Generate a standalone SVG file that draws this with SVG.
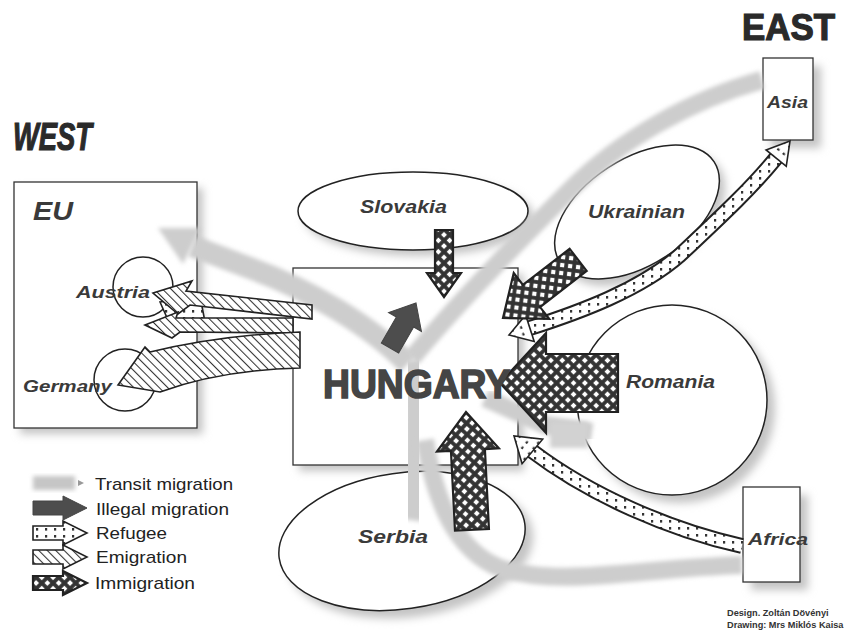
<svg xmlns="http://www.w3.org/2000/svg" width="846" height="635" viewBox="0 0 846 635">
<defs>
<style>
.lbl{font-family:"Liberation Sans",Arial,sans-serif;font-weight:bold;font-style:italic;fill:#3a3a3a}
.ttl{font-family:"Liberation Sans",Arial,sans-serif;font-weight:bold;fill:#2a2a2a;stroke:#2a2a2a;stroke-width:1.2}
.leg{font-family:"Liberation Sans",Arial,sans-serif;font-size:17px;fill:#222}
.cred{font-family:"Liberation Sans",Arial,sans-serif;font-size:9.2px;font-weight:bold;fill:#333}
.box{fill:#fff;stroke:#333;stroke-width:1.3}
.shape{fill:#fff;stroke:#222;stroke-width:1.5}
.shadow{fill:#c4c4c4;filter:url(#blur4)}
.transit{fill:none;stroke:#cdcdcd;filter:url(#blur2)}
.imm{fill:url(#cross);stroke:#222;stroke-width:2.2;stroke-linejoin:miter}
.emi{fill:url(#hatch);stroke:#222;stroke-width:1.6;stroke-linejoin:miter}
.ref{fill:url(#dots);stroke:#222;stroke-width:1.6;stroke-linejoin:miter}
.ill{fill:#4d4d4d;stroke:#444;stroke-width:1}
</style>
<filter id="blur4" x="-30%" y="-30%" width="160%" height="160%"><feGaussianBlur stdDeviation="4"/></filter>
<filter id="blur2" x="-20%" y="-20%" width="140%" height="140%"><feGaussianBlur stdDeviation="2"/></filter>
<pattern id="cross" width="8" height="8" patternUnits="userSpaceOnUse" patternTransform="rotate(45)"><rect width="8" height="8" fill="#333"/><rect x="1.9" y="1.9" width="4.2" height="4.2" fill="#fff"/></pattern>
<pattern id="hatch" width="6" height="6" patternUnits="userSpaceOnUse" patternTransform="rotate(-45)"><rect width="6" height="6" fill="#fff"/><line x1="0.5" y1="0" x2="0.5" y2="6" stroke="#333" stroke-width="1.1"/></pattern>
<pattern id="dots" width="9" height="7" patternUnits="userSpaceOnUse"><rect width="9" height="7" fill="#fff"/><rect x="3" y="2" width="2.2" height="2.6" fill="#333"/></pattern>
</defs>
<rect width="846" height="635" fill="#fff"/>

<g id="shadows">
<rect class="shadow" x="20" y="188" width="183" height="246"/>
<rect class="shadow" x="299" y="274" width="225" height="197"/>
<ellipse class="shadow" cx="419" cy="217" rx="115" ry="39"/>
<ellipse class="shadow" cx="643" cy="219" rx="92" ry="53" transform="rotate(-33 643 219)"/>
<circle class="shadow" cx="680" cy="408" r="95"/>
<ellipse class="shadow" cx="410" cy="549" rx="124" ry="68" transform="rotate(-8 410 549)"/>
<rect class="shadow" x="771" y="66" width="50" height="82"/>
<rect class="shadow" x="751" y="495" width="57" height="95"/>
</g>

<g id="west"><text class="ttl" x="13" y="150" font-size="38" font-style="italic" textLength="79" lengthAdjust="spacingAndGlyphs">WEST</text></g>
<g id="east"><text class="ttl" x="742" y="40" font-size="36" textLength="93" lengthAdjust="spacingAndGlyphs">EAST</text></g>

<g id="eu">
<rect class="box" x="14" y="182" width="183" height="246"/>
<text class="lbl" x="33" y="220" font-size="26" textLength="40" lengthAdjust="spacingAndGlyphs">EU</text>
</g>
<g id="austria">
<circle class="shape" cx="143" cy="287" r="30" stroke-width="1.2"/>
<text class="lbl" x="76" y="298" font-size="17" textLength="74" lengthAdjust="spacingAndGlyphs">Austria</text>
</g>
<g id="germany">
<circle class="shape" cx="125" cy="380" r="31" stroke-width="1.2"/>
<text class="lbl" x="23" y="392" font-size="17" textLength="89" lengthAdjust="spacingAndGlyphs">Germany</text>
</g>
<g id="hungary">
<rect class="box" x="293" y="268" width="225" height="197"/>
</g>
<g id="slovakia">
<ellipse class="shape" cx="413" cy="211" rx="115" ry="39"/>
<text class="lbl" x="360" y="213" font-size="18" textLength="87" lengthAdjust="spacingAndGlyphs">Slovakia</text>
</g>
<g id="ukrainian">
<ellipse class="shape" cx="637" cy="212" rx="92" ry="53" transform="rotate(-33 637 212)"/>
<text class="lbl" x="588" y="218" font-size="18" textLength="97" lengthAdjust="spacingAndGlyphs">Ukrainian</text>
</g>
<g id="romania">
<circle class="shape" cx="672" cy="400" r="95"/>
<text class="lbl" x="626" y="388" font-size="18" textLength="89" lengthAdjust="spacingAndGlyphs">Romania</text>
</g>
<g id="serbia">
<ellipse class="shape" cx="402" cy="541" rx="124" ry="68" transform="rotate(-8 402 541)"/>
<text class="lbl" x="358" y="543" font-size="18" textLength="70" lengthAdjust="spacingAndGlyphs">Serbia</text>
</g>
<g id="asia">
<rect class="box" x="763" y="58" width="50" height="82"/>
<text class="lbl" x="767" y="108" font-size="17" textLength="41" lengthAdjust="spacingAndGlyphs">Asia</text>
</g>
<g id="africa">
<rect class="box" x="743" y="487" width="57" height="95"/>
<text class="lbl" x="748" y="545" font-size="17" textLength="60" lengthAdjust="spacingAndGlyphs">Africa</text>
</g>

<g id="connectors">
<path class="transit" stroke-width="18" d="M 762 80 C 690 100 620 140 570 190 C 520 240 460 300 412 358"/>
<path class="transit" stroke-width="22" d="M 408 364 C 370 325 310 290 250 268 L 192 246"/>
<polygon points="158,228 201,228 183,264" fill="#cdcdcd" filter="url(#blur2)"/>
<path class="transit" stroke-width="24" d="M 412 360 C 418 400 420 440 410 520"/>
<path class="transit" stroke-width="18" d="M 742 565 C 640 568 560 588 500 568 C 455 550 435 500 425 440"/>
<path class="transit" stroke-width="18" d="M 485 398 L 545 425 L 592 432"/>
<rect x="550" y="422" width="38" height="26" fill="#d2d2d2" filter="url(#blur2)"/>

<path d="M 530 328 C 580 312 640 290 680 255 C 715 222 750 190 776 158" fill="none" stroke="#222" stroke-width="16"/>
<path d="M 530 328 C 580 312 640 290 680 255 C 715 222 750 190 776 158" fill="none" stroke="url(#dots)" stroke-width="12"/>
<polygon class="ref" points="-22,-14 0,0 -22,14" transform="translate(509 335) rotate(162)"/>
<polygon class="ref" points="-22,-13 0,0 -22,13" transform="translate(790 141) rotate(-51)"/>

<path d="M 742 546 C 670 530 590 495 532 451" fill="none" stroke="#222" stroke-width="16"/>
<path d="M 742 546 C 670 530 590 495 532 451" fill="none" stroke="url(#dots)" stroke-width="12"/>
<polygon class="ref" points="-24,-16 0,0 -24,16" transform="translate(514 436) rotate(-140)"/>

<polygon class="ref" points="160,302 200,296 205,322 168,320" stroke="none"/>

<polygon class="emi" points="153,293 192,281 186,291 312,305 312,319 190,305 178,314"/>
<polygon class="emi" points="145,325 178,312 176,318 293,318 293,333 180,332 172,338"/>
<path class="emi" d="M 118 385 L 145 347 L 150 352 Q 220 335 300 332 L 300 368 Q 220 370 160 392 Z"/>

<polygon class="imm" points="-67,-9 -24,-9 -24,-17 0,0 -24,17 -24,9 -67,9" transform="translate(444 297) rotate(90)"/>
<polygon class="imm" points="-95,-14 -36,-14 -36,-29 0,0 -36,29 -36,14 -95,14" transform="translate(503 318) rotate(142.3)"/>
<polygon class="imm" points="-118,-29 -46,-29 -46,-50 0,0 -46,50 -46,29 -118,29" transform="translate(500 383) rotate(180)"/>
<polygon class="imm" points="-118,-17 -38,-17 -38,-31 0,0 -38,31 -38,17 -118,17" transform="translate(466 412) rotate(-92.9)"/>

<polygon class="ill" points="-52,-10 -22,-10 -22,-19 0,0 -22,19 -22,10 -52,10" transform="translate(416 303) rotate(-60)"/>
</g>

<g id="hungary-label">
<text x="323" y="398" font-family="'Liberation Sans',Arial,sans-serif" font-weight="900" font-size="40" fill="#454545" stroke="#454545" stroke-width="1.6" textLength="187" lengthAdjust="spacingAndGlyphs">HUNGARY</text>
</g>

<g id="legend">
<rect x="33" y="476" width="42" height="14" fill="#c6c6c6" filter="url(#blur2)"/>
<polygon points="78,480 84,483 78,486" fill="#999"/>
<polygon class="ill" points="-54,-7 -24,-7 -24,-12 0,0 -24,12 -24,7 -54,7" transform="translate(87 508)"/>
<polygon class="ref" points="-54,-7 -24,-7 -24,-12 0,0 -24,12 -24,7 -54,7" transform="translate(87 533)"/>
<polygon class="emi" points="-54,-7 -24,-7 -24,-12 0,0 -24,12 -24,7 -54,7" transform="translate(87 557)"/>
<polygon class="imm" points="-54,-7 -24,-7 -24,-12 0,0 -24,12 -24,7 -54,7" transform="translate(87 583)"/>
<text class="leg" x="95" y="490" textLength="138" lengthAdjust="spacingAndGlyphs">Transit migration</text>
<text class="leg" x="96" y="515" textLength="133" lengthAdjust="spacingAndGlyphs">Illegal migration</text>
<text class="leg" x="96" y="539" textLength="71" lengthAdjust="spacingAndGlyphs">Refugee</text>
<text class="leg" x="96" y="563" textLength="91" lengthAdjust="spacingAndGlyphs">Emigration</text>
<text class="leg" x="95" y="589" textLength="100" lengthAdjust="spacingAndGlyphs">Immigration</text>
</g>

<g id="credits">
<text class="cred" x="727" y="616">Design. Zoltán Dövényi</text>
<text class="cred" x="727" y="628">Drawing: Mrs Miklós Kaisa</text>
</g>
</svg>
